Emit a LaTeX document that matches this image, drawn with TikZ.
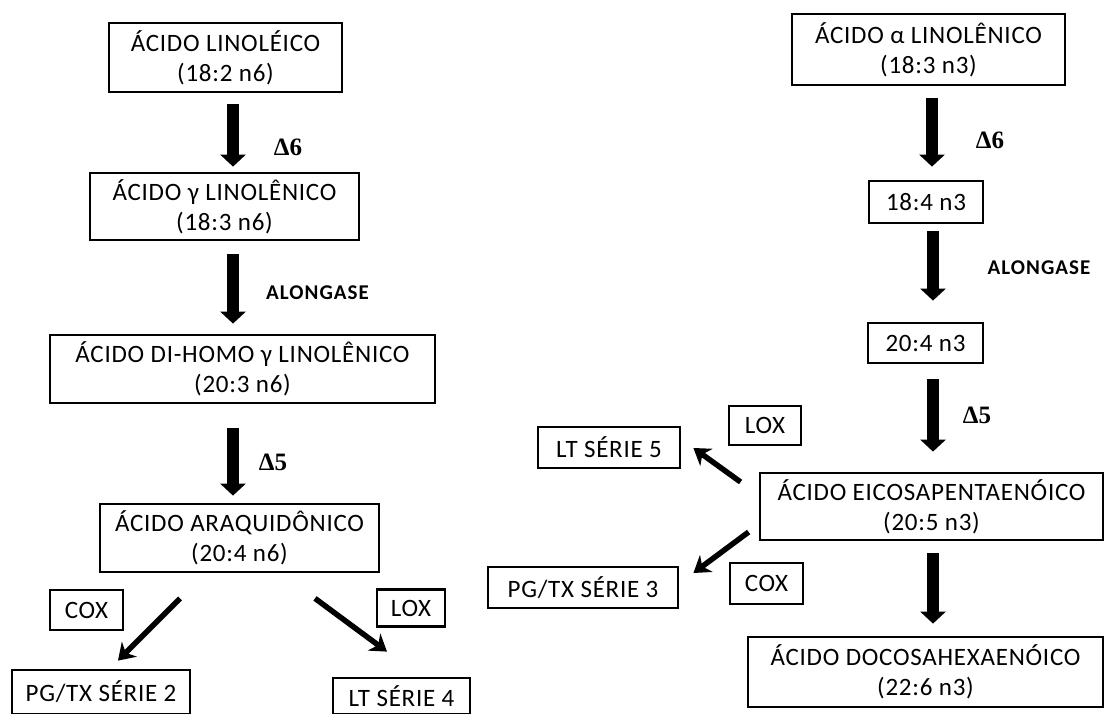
\documentclass[tikz,border=0pt]{standalone}
\usepackage{fontspec}
\setmainfont{Carlito}[LetterSpace=3]
\newfontfamily\dfont{Liberation Serif}
\newfontfamily\afont{Carlito}[LetterSpace=5]
\usetikzlibrary{arrows.meta}
\begin{document}
\begin{tikzpicture}[x=1pt,y=-1pt,
  box/.style={draw=black,line width=2.8pt,align=center,inner sep=0pt,
    font=\fontsize{25}{30}\selectfont},
  bigarrow/.style={line width=12pt,-{Triangle[width=25pt,length=12pt]}},
  diagarrow/.style={line width=5.5pt,-{Stealth[width=21pt,length=16pt,inset=5pt]}},
  dlabel/.style={font=\dfont\bfseries\fontsize{25}{25}\selectfont},
  alabel/.style={font=\afont\bfseries\fontsize{21}{21}\selectfont}]
\useasboundingbox (0,0) rectangle (1105,713);
\begin{scope}
\clip (0,0) rectangle (1105,713);
% left column
\node[box,minimum width=233pt,minimum height=69pt] (A1) at (225.5,57.5) {ÁCIDO LINOLÉICO\\(18:2 n6)};
\node[box,minimum width=269pt,minimum height=67pt] (A2) at (224.5,206.5) {ÁCIDO γ LINOLÊNICO\\(18:3 n6)};
\node[box,minimum width=385pt,minimum height=68pt] (A3) at (242.5,369) {ÁCIDO DI-HOMO γ LINOLÊNICO\\(20:3 n6)};
\node[box,minimum width=279pt,minimum height=68pt] (A4) at (239.5,538) {ÁCIDO ARAQUIDÔNICO\\(20:4 n6)};
\node[box,minimum width=73pt,minimum height=40pt] (COXL) at (86.5,610) {COX};
\node[box,minimum width=68pt,minimum height=37pt] (LOXL) at (411,608) {LOX};
\node[box,minimum width=178pt,minimum height=44pt] (PG2) at (101,692) {PG/TX SÉRIE 2};
\node[box,minimum width=137pt,minimum height=36pt] (LT4) at (401.5,696) {LT SÉRIE 4};
% right column
\node[box,minimum width=273pt,minimum height=71pt] (B1) at (928.5,49.5) {ÁCIDO α LINOLÊNICO\\(18:3 n3)};
\node[box,minimum width=114pt,minimum height=42pt] (B2) at (926,202) {18:4 n3};
\node[box,minimum width=115pt,minimum height=40pt] (B3) at (925.5,343) {20:4 n3};
\node[box,minimum width=343pt,minimum height=67pt] (EPA) at (931.5,506.5) {ÁCIDO EICOSAPENTAENÓICO\\(20:5 n3)};
\node[box,minimum width=355pt,minimum height=70pt] (DHA) at (925.5,672) {ÁCIDO DOCOSAHEXAENÓICO\\(22:6 n3)};
\node[box,minimum width=73pt,minimum height=41pt] (COXR) at (766.5,583.5) {COX};
\node[box,minimum width=72pt,minimum height=39pt] (LOXR) at (765,425.5) {LOX};
\node[box,minimum width=142pt,minimum height=41pt] (LT5) at (609,447.5) {LT SÉRIE 5};
\node[box,minimum width=190pt,minimum height=41pt] (PG3) at (583,587.5) {PG/TX SÉRIE 3};
% labels
\node[dlabel] (d6L) at (288,147) {Δ6};
\node[alabel] (alL) at (317.5,293) {ALONGASE};
\node[dlabel] (d5L) at (273,462) {Δ5};
\node[dlabel] (d6R) at (990,140) {Δ6};
\node[alabel] (alR) at (1039,268) {ALONGASE};
\node[dlabel] (d5R) at (977,415) {Δ5};
% arrows left
\draw[bigarrow] ([xshift=7.5pt,yshift=-11pt]A1.south) -- ([xshift=8.5pt,yshift=5pt]A2.north);
\draw[bigarrow] ([xshift=8.5pt,yshift=-13pt]A2.south) -- ([xshift=-9.5pt,yshift=10pt]A3.north);
\draw[bigarrow] ([xshift=-9.5pt,yshift=-24pt]A3.south) -- ([xshift=-6.5pt,yshift=7pt]A4.north);
\draw[diagarrow] ([xshift=-59.5pt,yshift=-25pt]A4.south) -- ([xshift=17pt,yshift=8pt]PG2.north);
\draw[diagarrow] ([xshift=75.5pt,yshift=-25pt]A4.south) -- ([xshift=-14.5pt,yshift=25pt]LT4.north);
% arrows right
\draw[bigarrow] ([xshift=3.5pt,yshift=-12pt]B1.south) -- ([xshift=6pt,yshift=13pt]B2.north);
\draw[bigarrow] ([xshift=7pt,yshift=-7pt]B2.south) -- ([xshift=7.5pt,yshift=21pt]B3.north);
\draw[bigarrow] ([xshift=7.5pt,yshift=-15pt]B3.south) -- ([xshift=1.5pt,yshift=20pt]EPA.north);
\draw[bigarrow] ([xshift=1.5pt,yshift=-12pt]EPA.south) -- ([xshift=7.5pt,yshift=12pt]DHA.north);
\draw[diagarrow] ([xshift=-18pt,yshift=24.5pt]EPA.west) -- ([xshift=12pt,yshift=-0.5pt]LT5.east);
\draw[diagarrow] ([xshift=-10pt,yshift=-25.5pt]EPA.west) -- ([xshift=14pt,yshift=14.5pt]PG3.east);
\end{scope}
\end{tikzpicture}
\end{document}
